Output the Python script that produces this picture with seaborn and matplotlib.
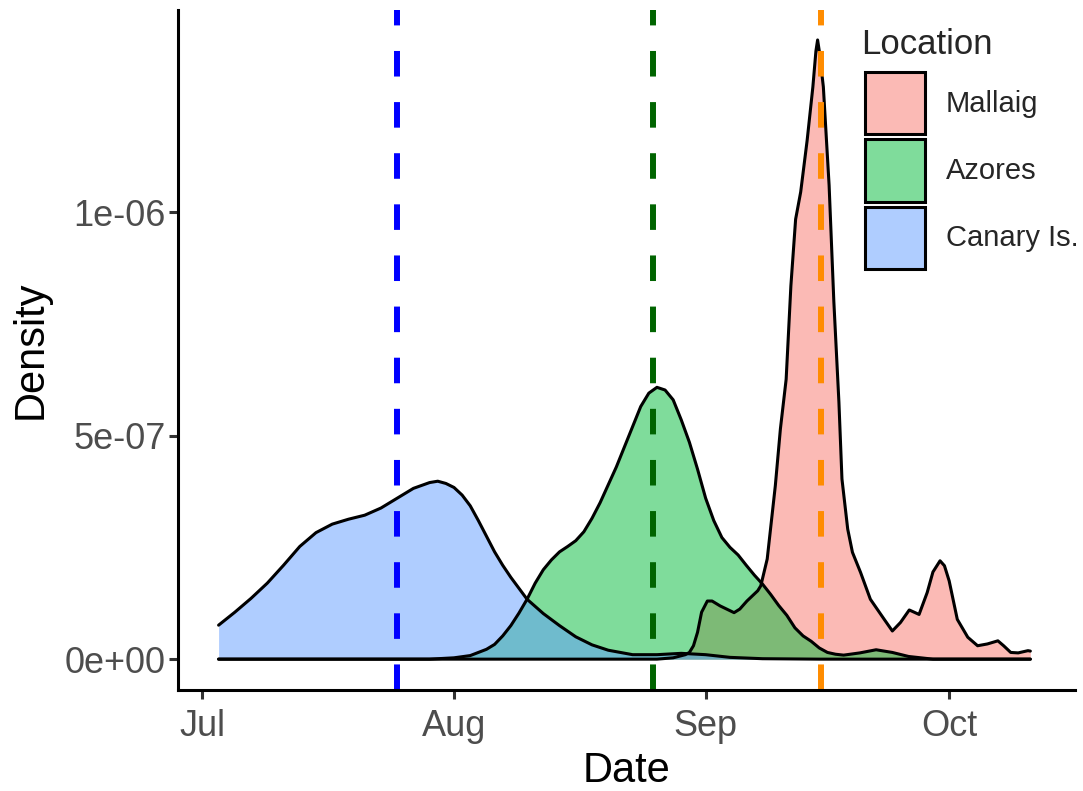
import matplotlib
matplotlib.use("Agg")
import matplotlib.pyplot as plt
import matplotlib.dates as mdates
from matplotlib.patches import Patch
import numpy as np
import pandas as pd
import seaborn as sns

# density values are in units of 1e-7
locations = ["Mallaig", "Azores", "Canary Is."]
fill_colors = ["#F8766D", "#00BA38", "#619CFF"]

mallaig_dates = ["2019-07-03", "2019-08-26", "2019-08-28", "2019-08-29 12:00",
                 "2019-08-30", "2019-08-30 12:00", "2019-08-31", "2019-08-31 12:00",
                 "2019-09-01 05:00", "2019-09-01 19:00", "2019-09-02 19:00",
                 "2019-09-04 12:00", "2019-09-05 05:00", "2019-09-06 02:00",
                 "2019-09-07 10:00", "2019-09-07 19:00", "2019-09-08 14:00",
                 "2019-09-09 14:00", "2019-09-10 05:00", "2019-09-10 22:00",
                 "2019-09-11 12:00", "2019-09-12 02:00", "2019-09-12 17:00",
                 "2019-09-13 12:00", "2019-09-14 05:00", "2019-09-14 14:00",
                 "2019-09-14 19:00", "2019-09-15 00:00", "2019-09-15 12:00",
                 "2019-09-16 05:00", "2019-09-16 19:00", "2019-09-17 10:00",
                 "2019-09-17 19:00", "2019-09-18 12:00", "2019-09-19 02:00",
                 "2019-09-20 02:00", "2019-09-21 07:00", "2019-09-23", "2019-09-24",
                 "2019-09-25", "2019-09-26 02:00", "2019-09-27 07:00",
                 "2019-09-28 07:00", "2019-09-29", "2019-09-29 21:00",
                 "2019-09-30 10:00", "2019-10-01", "2019-10-02", "2019-10-03 07:00",
                 "2019-10-04 12:00", "2019-10-05 17:00", "2019-10-07",
                 "2019-10-07 17:00", "2019-10-08 14:00", "2019-10-09 12:00",
                 "2019-10-10 17:00", "2019-10-11"]
mallaig_density = [0.0, 0.0, 0.03, 0.1,
                   0.15, 0.3, 0.6, 1.05,
                   1.3, 1.3, 1.19,
                   1.04, 1.12, 1.3,
                   1.53, 1.64, 2.24,
                   3.88, 5.15, 6.26,
                   8.35, 9.84, 10.45,
                   11.6, 12.8, 13.6,
                   13.85, 13.6, 12.8,
                   10.6, 8.0, 5.75,
                   4.03, 2.91, 2.39,
                   1.94, 1.34, 0.89, 0.63,
                   0.82, 1.1, 1.0,
                   1.49, 1.95, 2.2,
                   2.09, 1.75, 0.89, 0.49,
                   0.3, 0.34, 0.41,
                   0.3, 0.15, 0.14,
                   0.19, 0.18]

azores_dates = ["2019-07-03", "2019-07-29", "2019-08-01", "2019-08-03", "2019-08-05",
                "2019-08-06", "2019-08-07", "2019-08-08", "2019-08-09", "2019-08-10",
                "2019-08-11", "2019-08-12", "2019-08-13", "2019-08-14", "2019-08-15",
                "2019-08-16", "2019-08-17", "2019-08-18", "2019-08-19", "2019-08-20",
                "2019-08-21", "2019-08-22", "2019-08-23", "2019-08-24", "2019-08-25",
                "2019-08-26", "2019-08-27", "2019-08-28", "2019-08-29", "2019-08-30",
                "2019-08-31", "2019-09-01", "2019-09-02", "2019-09-03", "2019-09-04",
                "2019-09-05", "2019-09-06", "2019-09-07", "2019-09-08", "2019-09-09",
                "2019-09-10", "2019-09-11", "2019-09-12", "2019-09-13", "2019-09-14",
                "2019-09-15", "2019-09-16", "2019-09-17", "2019-09-18", "2019-09-20",
                "2019-09-22", "2019-09-24", "2019-09-26", "2019-09-29", "2019-10-11"]
azores_density = [0.0, 0.0, 0.03, 0.08, 0.22,
                  0.33, 0.52, 0.75, 1.03, 1.34,
                  1.7, 2.0, 2.22, 2.4, 2.52,
                  2.65, 2.85, 3.15, 3.5, 3.9,
                  4.3, 4.75, 5.2, 5.65, 5.95,
                  6.08, 6.02, 5.8, 5.35, 4.85,
                  4.25, 3.6, 3.1, 2.72, 2.5,
                  2.33, 2.1, 1.88, 1.68, 1.45,
                  1.2, 0.98, 0.7, 0.52, 0.4,
                  0.25, 0.15, 0.11, 0.09, 0.14,
                  0.21, 0.15, 0.06, 0.0, 0.0]

canary_dates = ["2019-07-03", "2019-07-05", "2019-07-07", "2019-07-09", "2019-07-11",
                "2019-07-13", "2019-07-15", "2019-07-17", "2019-07-19", "2019-07-21",
                "2019-07-23", "2019-07-25", "2019-07-27", "2019-07-29", "2019-07-30",
                "2019-07-31", "2019-08-01", "2019-08-02", "2019-08-03", "2019-08-04",
                "2019-08-05", "2019-08-06", "2019-08-07", "2019-08-08", "2019-08-10",
                "2019-08-12", "2019-08-14", "2019-08-16", "2019-08-18", "2019-08-20",
                "2019-08-23", "2019-08-26", "2019-08-29", "2019-09-01", "2019-09-04",
                "2019-09-08", "2019-09-15", "2019-10-11"]
canary_density = [0.76, 1.05, 1.36, 1.7, 2.1,
                  2.52, 2.83, 3.02, 3.13, 3.22,
                  3.38, 3.6, 3.82, 3.95, 3.98,
                  3.93, 3.84, 3.67, 3.43, 3.1,
                  2.75, 2.4, 2.1, 1.83, 1.34,
                  1.02, 0.75, 0.5, 0.32, 0.2,
                  0.1, 0.1, 0.13, 0.1, 0.04,
                  0.01, 0.0, 0.0]

# dashed reference dates
vline_dates = ["2019-07-25", "2019-08-25 12:00", "2019-09-15 06:00"]
vline_colors = ["blue", "darkgreen", "darkorange"]

tick_dates = ["2019-07-01", "2019-08-01", "2019-09-01", "2019-10-01"]
y_ticks = [0.0, 5e-07, 1e-06]
y_tick_labels = ["0e+00", "5e-07", "1e-06"]

sns.set_theme(style="ticks")
plt.rcParams["font.family"] = ["Liberation Sans", "DejaVu Sans"]

fig = plt.figure(figsize=(10.83, 7.91), dpi=100)
ax = fig.add_axes([178 / 1083, 101 / 791, (1075 - 178) / 1083, 680 / 791])

series = [(mallaig_dates, mallaig_density),
          (azores_dates, azores_density),
          (canary_dates, canary_density)]
for (dates, dens), color in zip(series, fill_colors):
    df = pd.DataFrame({"Date": pd.to_datetime(dates, format="mixed"),
                       "Density": np.array(dens) * 1e-7})
    ax.fill_between(df["Date"], df["Density"], color=color, alpha=0.5, lw=0)
    sns.lineplot(data=df, x="Date", y="Density", color="black", lw=2.2, ax=ax)

for d, c in zip(vline_dates, vline_colors):
    ax.axvline(pd.Timestamp(d), color=c, lw=4.3, linestyle=(0, (4.28, 4.28)))

ax.set_xlim(pd.Timestamp("2019-06-28"), pd.Timestamp("2019-10-16 12:00"))
ax.set_ylim(-0.069e-6, 1.452e-6)
ax.set_xticks(pd.to_datetime(tick_dates))
ax.xaxis.set_major_formatter(mdates.DateFormatter("%b"))
ax.set_yticks(y_ticks)
ax.set_yticklabels(y_tick_labels)

ax.tick_params(axis="both", labelsize=26, labelcolor="#4D4D4D", color="#333333",
               length=6.5, width=2.2)
ax.tick_params(axis="x", pad=7)
ax.tick_params(axis="y", pad=2.5)
for side in ["left", "bottom"]:
    ax.spines[side].set_linewidth(2.2)
    ax.spines[side].set_color("black")
sns.despine(ax=ax)

ax.set_xlabel("Date", fontsize=30, color="black", labelpad=5)
ax.set_ylabel("Density", fontsize=30, color="black", labelpad=10)

fig.text(861 / 1083, 1 - 54 / 791, "Location", fontsize=25, va="baseline", ha="left")
handles = [Patch(facecolor=matplotlib.colors.to_rgba(c, 0.5), edgecolor="black", lw=2.2)
           for c in fill_colors]
leg = fig.legend(handles, locations, loc="upper left",
                 bbox_to_anchor=(865 / 1083, 1 - 72 / 791), frameon=False,
                 fontsize=21, handlelength=2.07, handleheight=2.91,
                 labelspacing=0.17, handletextpad=0.69, borderpad=0, borderaxespad=0)

fig.savefig("out.png", dpi=100)
